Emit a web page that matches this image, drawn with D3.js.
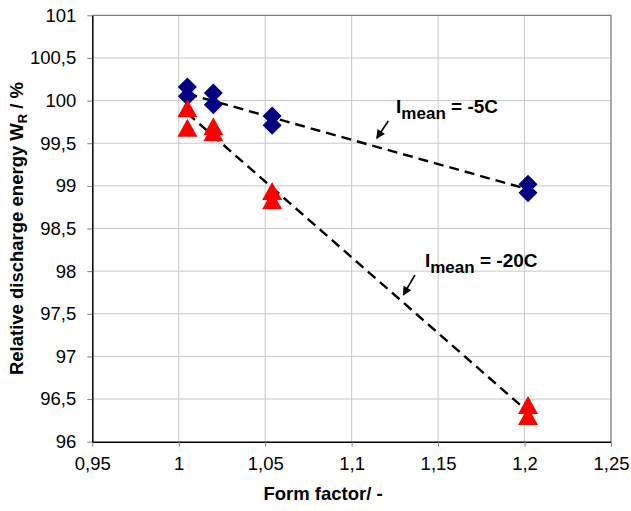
<!DOCTYPE html>
<html><head><meta charset="utf-8">
<script src="https://cdn.jsdelivr.net/npm/d3@7"></script>
<style>body{margin:0;background:#fff}svg{display:block;font-family:"Liberation Sans",Arial,sans-serif}</style>
</head><body><svg id="c" width="631" height="511"></svg>
<script>
const xTicks = [0.95, 1.0, 1.05, 1.1, 1.15, 1.2, 1.25];
const yTicks = [96, 96.5, 97, 97.5, 98, 98.5, 99, 99.5, 100, 100.5, 101];
const blueX = [1.005, 1.005, 1.02, 1.02, 1.054, 1.054, 1.202, 1.202];
const blueY = [100.16, 100.05, 100.09, 99.95, 99.82, 99.71, 99.02, 98.92];
const redX = [1.005, 1.005, 1.02, 1.02, 1.054, 1.054, 1.202, 1.202];
const redY = [99.91, 99.68, 99.70, 99.63, 98.94, 98.83, 96.43, 96.30];
const blueFitX = [1.005, 1.202];
const blueFitY = [100.08, 98.96];
const redFitX = [1.005, 1.202];
const redFitY = [99.85, 96.35];
const labels = [
  {sub: "mean", txt: " = -5C", x: 1.1257, y: 99.86, ax: [1.1212, 1.1145], ay: [99.761, 99.558]},
  {sub: "mean", txt: " = -20C", x: 1.1424, y: 98.053, ax: [1.1366, 1.1299], ay: [97.955, 97.721]}
];

const svg = d3.select("#c");
const x = d3.scaleLinear().domain([0.95, 1.25]).range([92.3, 611]);
const y = d3.scaleLinear().domain([96, 101]).range([441.7, 15.3]);
const fmt = d => String(+d.toFixed(2)).replace(".", ",");

// grid
svg.append("g").selectAll("line").data(yTicks.slice(1, -1)).join("line")
  .attr("x1", x(0.95)).attr("x2", x(1.25)).attr("y1", d => y(d)).attr("y2", d => y(d))
  .attr("stroke", "#c8c8c8").attr("stroke-width", 1);
svg.append("g").selectAll("line").data(xTicks.slice(1, -1)).join("line")
  .attr("y1", y(96)).attr("y2", y(101)).attr("x1", d => x(d)).attr("x2", d => x(d))
  .attr("stroke", "#c8c8c8").attr("stroke-width", 1);
// top/right border
svg.append("path").attr("d", `M${x(0.95)},${y(101)}H${x(1.25)}V${y(96)}`)
  .attr("fill", "none").attr("stroke", "#808080").attr("stroke-width", 1.3);

// axes
const ax = svg.append("g").attr("transform", `translate(0,${y(96)})`)
  .call(d3.axisBottom(x).tickValues(xTicks).tickFormat(fmt).tickSize(5).tickSizeOuter(0).tickPadding(10));
const ay = svg.append("g").attr("transform", `translate(${x(0.95)},0)`)
  .call(d3.axisLeft(y).tickValues(yTicks).tickFormat(fmt).tickSize(5).tickSizeOuter(0).tickPadding(11));
[ax, ay].forEach(g => {
  g.select(".domain").attr("stroke", "#000").attr("stroke-width", 1.5);
  g.selectAll(".tick line").attr("stroke", "#808080");
  g.selectAll("text").attr("font-size", 18.5).attr("fill", "#000").attr("font-family", "Liberation Sans, Arial, sans-serif");
});

// fit lines
const line = d3.line().x(d => x(d[0])).y(d => y(d[1]));
[[blueFitX, blueFitY], [redFitX, redFitY]].forEach(([xs, ys]) => {
  svg.append("path").attr("d", line(xs.map((v, i) => [v, ys[i]])))
    .attr("fill", "none").attr("stroke", "#000").attr("stroke-width", 2.4).attr("stroke-dasharray", "10,6");
});

// markers
svg.append("g").selectAll("path").data(blueX.map((v, i) => [v, blueY[i]])).join("path")
  .attr("d", "M0,-9.5L9.5,0L0,9.5L-9.5,0Z")
  .attr("transform", d => `translate(${x(d[0])},${y(d[1])})`).attr("fill", "#000080");
svg.append("g").selectAll("path").data(redX.map((v, i) => [v, redY[i]])).join("path")
  .attr("d", "M0,-9L10,9L-10,9Z")
  .attr("transform", d => `translate(${x(d[0])},${y(d[1])})`).attr("fill", "#ff0000");

// annotations
svg.append("defs").append("marker").attr("id", "ah").attr("viewBox", "0 0 10 10")
  .attr("refX", 9).attr("refY", 5).attr("markerWidth", 10).attr("markerHeight", 9)
  .attr("markerUnits", "userSpaceOnUse").attr("orient", "auto")
  .append("path").attr("d", "M0,0L10,5L0,10Z").attr("fill", "#000");
labels.forEach(l => {
  svg.append("line").attr("x1", x(l.ax[0])).attr("y1", y(l.ay[0])).attr("x2", x(l.ax[1])).attr("y2", y(l.ay[1]))
    .attr("stroke", "#000").attr("stroke-width", 1.6).attr("marker-end", "url(#ah)");
  const t = svg.append("text").attr("x", x(l.x)).attr("y", y(l.y)).attr("font-weight", "bold").attr("font-size", 19);
  t.append("tspan").text("I");
  t.append("tspan").attr("dy", 6).attr("font-size", 17).text(l.sub);
  t.append("tspan").attr("dy", -6).text(l.txt);
});

// axis titles
svg.append("text").attr("x", 323).attr("y", 500).attr("text-anchor", "middle")
  .attr("font-weight", "bold").attr("font-size", 18.5).text("Form factor/ -");
const yt = svg.append("text").attr("transform", `translate(23,${(y(96) + y(101)) / 2}) rotate(-90)`)
  .attr("text-anchor", "middle").attr("font-weight", "bold").attr("font-size", 18.5);
yt.append("tspan").text("Relative discharge energy W");
yt.append("tspan").attr("dy", 4).attr("font-size", 13).text("R");
yt.append("tspan").attr("dy", -4).text(" / %");
</script></body></html>
